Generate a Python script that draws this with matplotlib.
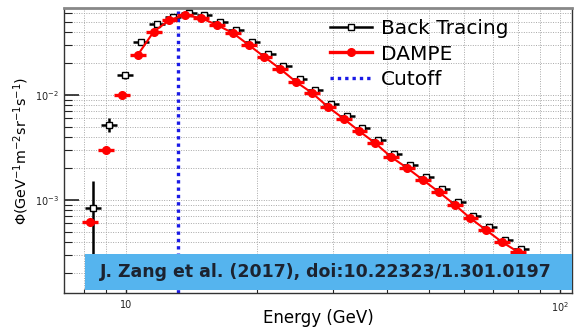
import matplotlib
matplotlib.use('Agg')
import matplotlib.pyplot as plt
import numpy as np
from matplotlib.lines import Line2D
from matplotlib.patches import Rectangle
from matplotlib.ticker import LogLocator, FixedLocator, FixedFormatter, NullFormatter

plt.rcParams['font.family'] = ['DejaVu Sans']

# bin centres (GeV)
energy = [8.26, 8.99, 9.77, 10.63, 11.57, 12.58, 13.68, 14.89, 16.19, 17.62,
          19.16, 20.84, 22.66, 24.65, 26.83, 29.20, 31.78, 34.43, 37.48, 40.79,
          44.42, 48.33, 52.61, 57.30, 62.03, 67.53, 73.51, 80.03]
# DAMPE flux
dampe = [6.2e-4, 3.0e-3, 1.0e-2, 2.4e-2, 0.040, 0.0518, 0.0578, 0.054, 0.0464, 0.0389,
         0.030, 0.023, 0.0177, 0.0133, 0.01045, 0.00769, 0.0059, 0.00454, 0.00349, 0.00257,
         0.00202, 0.00155, 0.00119, 8.95e-4, 6.74e-4, 5.18e-4, 3.98e-4, 3.2e-4]
# back tracing flux, slightly shifted bins
bt_energy = [8.40, 9.13, 9.95, 10.80, 11.80, 12.80, 13.95, 15.15, 16.50, 17.95,
             19.50, 21.20, 23.05, 25.10, 27.30, 29.70, 32.35, 35.05, 38.15, 41.50,
             45.20, 49.20, 53.55, 58.30, 63.15, 68.75, 74.80, 81.45]
backtr = [8.4e-4, 5.2e-3, 0.0155, 0.032, 0.047, 0.0555, 0.060, 0.058, 0.050, 0.0415,
          0.032, 0.0245, 0.019, 0.0142, 0.0111, 0.0082, 0.0063, 0.0048, 0.0037, 0.00272,
          0.00214, 0.00164, 0.00126, 0.00095, 0.00071, 0.00055, 0.00042, 0.00034]
backtr_err = [6.8e-4, 8.0e-4, 1.2e-3, 1.0e-3, 1.0e-3, 1.0e-3, 1.0e-3, 1.0e-3, 9e-4, 8e-4,
              7e-4, 5e-4, 4e-4, 3e-4, 2.5e-4, 2e-4, 1.5e-4, 1.2e-4, 1e-4, 8e-5,
              6e-5, 5e-5, 4e-5, 3e-5, 2.5e-5, 2e-5, 1.5e-5, 1.2e-5]
cutoff = 13.2
citation = 'J. Zang et al. (2017), doi:10.22323/1.301.0197'

def bin_halfwidths(e):
    e = np.asarray(e)
    r = np.sqrt(e[1:] / e[:-1])
    r = np.concatenate([[r[0]], r, [r[-1]]])
    lo = e - e / r[:-1]
    hi = e * r[1:] - e
    return [lo, hi]

fig = plt.figure(figsize=(5.74, 3.28), dpi=100)
ax = fig.add_axes([0.1115, 0.1067, 0.885, 0.869])
ax.set_xscale('log')
ax.set_yscale('log')
ax.set_xlim(7.19, 106.6)
ax.set_ylim(1.30e-4, 0.0674)

ax.errorbar(bt_energy, backtr, xerr=bin_halfwidths(bt_energy), yerr=backtr_err,
            fmt='s', mfc='white', mec='black', mew=1.0, ms=5, color='black',
            elinewidth=1.8, capsize=0, zorder=3)
ax.plot(energy[3:], dampe[3:], '-', color='red', lw=1.5, zorder=4)
ax.errorbar(energy, dampe, xerr=bin_halfwidths(energy), fmt='o', color='red',
            ms=5.5, elinewidth=2.4, capsize=0, zorder=5)
ax.axvline(cutoff, color='#1a1ae6', ls=(0, (1, 1.2)), lw=2.4, zorder=2)

# grid and ticks
ax.xaxis.set_major_locator(FixedLocator([10, 100]))
ax.xaxis.set_major_formatter(FixedFormatter(['10', '10$^{2}$']))
ax.xaxis.set_minor_locator(LogLocator(base=10, subs=np.arange(2, 10)))
ax.xaxis.set_minor_formatter(NullFormatter())
ax.yaxis.set_major_locator(FixedLocator([1e-3, 1e-2]))
ax.yaxis.set_major_formatter(FixedFormatter(['10$^{-3}$', '10$^{-2}$']))
ax.yaxis.set_minor_locator(LogLocator(base=10, subs=np.arange(2, 10)))
ax.yaxis.set_minor_formatter(NullFormatter())
ax.grid(True, which='both', ls=(0, (1, 1.5)), color='#a8a8a8', lw=0.7)
ax.tick_params(axis='both', which='both', direction='in', labelsize=7, colors='#222222')
ax.tick_params(axis='y', which='major', length=11, width=1.2)
ax.tick_params(axis='y', which='minor', length=6, width=0.8)
ax.tick_params(axis='x', which='major', length=6, width=1.0, pad=5)
ax.tick_params(axis='x', which='minor', length=3, width=0.8)
for s in ax.spines.values():
    s.set_color('#333333')
    s.set_linewidth(1.0)
ax.spines['top'].set_color('#888888')
ax.spines['top'].set_linewidth(2.0)

fig.text(0.555, 0.03, 'Energy (GeV)', fontsize=12, ha='center', va='center')
ax.set_ylabel('$\\Phi$(GeV$^{-1}$m$^{-2}$sr$^{-1}$s$^{-1}$)', fontsize=10.3, labelpad=3)

handles = [
    Line2D([], [], color='black', lw=1.8, marker='s', mfc='white', mec='black', ms=5),
    Line2D([], [], color='red', lw=2.4, marker='o', ms=5.5),
    Line2D([], [], color='#1a1ae6', lw=2.4, ls=(0, (1, 1.2))),
]
ax.legend(handles, ['Back Tracing', 'DAMPE', 'Cutoff'], loc='upper left',
          bbox_to_anchor=(0.524, 0.961), frameon=False, fontsize=14.5,
          handlelength=2.1, handletextpad=0.42, labelspacing=0.32,
          borderpad=0, borderaxespad=0)

# citation banner along the bottom of the frame
ax.add_patch(Rectangle((0.041, 0.0105), 0.959, 0.126, transform=ax.transAxes,
                       fc='#55b4ee', ec='none', zorder=9, clip_on=False))
ax.text(0.071, 0.072, citation, transform=ax.transAxes, ha='left', va='center',
        fontsize=12.5, fontweight='bold', color='#1c2330', zorder=10)

fig.savefig('out.png', dpi=100)
